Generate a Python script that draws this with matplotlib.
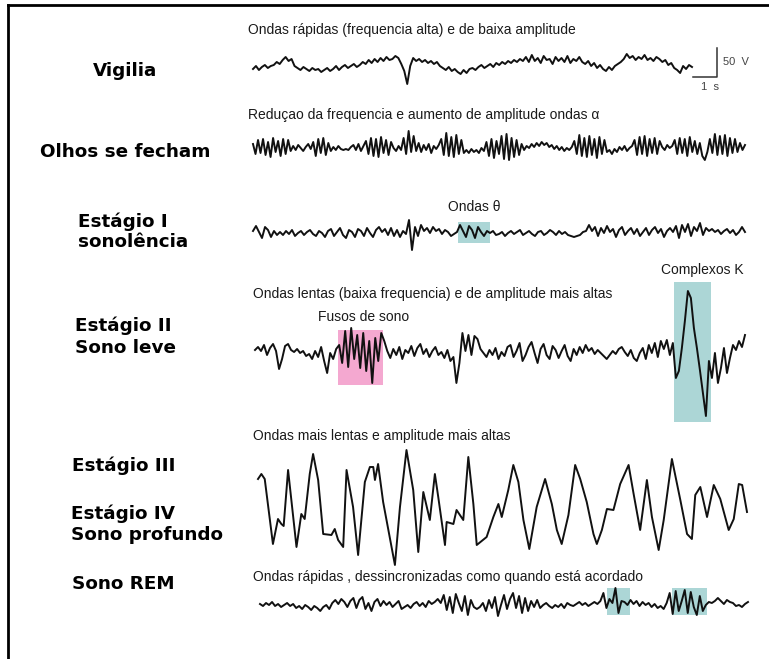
import numpy as np
import matplotlib
matplotlib.use("Agg")
import matplotlib.pyplot as plt
from matplotlib.patches import Rectangle
from matplotlib.lines import Line2D

plt.rcParams["font.family"] = ["Liberation Sans", "DejaVu Sans"]

# EEG traces, amplitude in display units (1 unit ~ 1.7 uV), one sample every 3 px
vigilia = [
    -1, 2, -2, 1, 3, 0, 2,
    3, 6, 4, 8, 11, 7, 9,
    2, 0, -2, 1, -1, -3, 0, -2, -1, -4, -2, 0, -3,
    -1, 2, -2, 1, 3, 0, 2, 4, 1, 3,
    6, 4, 8, 5, 9, 6, 10, 7, 11, 8, 9, 12, 10,
    4, -3, -16, 2, 10,
    7, 9, 6, 8, 5, 7, 4, 6,
    2, 0, -2, 1, -3, -1, -4, -6, -2, -5, -1,
    0, -2, 1, 3, 0, 2, 4, 1, 5, 3, 6, 4, 7, 5, 8, 6, 9, 7,
    11, 6, 13, 7, 10, 5, 12, 8, 9, 4, 11, 7, 10, 6, 12, 5, 9, 7, 11, 6,
    4, 7, 2, 5, 0, 3, -1, -3, 1, -2, 2, 4, 6,
    9, 14, 10, 12, 8, 11, 9, 13, 8, 10, 7, 11, 9,
    6, 8, 3, 5, 0, -2, -5, 2, -1, 3, 1,
]

# alpha rhythm, denser sampling (every 2.5 px)
olhos_fechados = [
    4, -6, 8, -5, 9, -7, 6, -9, 10, -4, 7, -8, 9, -6, 8, -3,
    2, -2, 3, 0, -3, 1, 4, -1,
    6, -8, 9, -5, 10, -7, 5, -3,
    1, -2, 2, -1, -2, -1, -2, 1, 3, -2, 4, -3, 2,
    7, -6, 10, -8, 9, -9, 11, -5, 8, -7, 6,
    0, -3, 2, -2,
    10, -6, 17, -4, 12,
    -3, 5, -4, 3, -2, 4, -5, 2, -1, 3,
    9, -7, 15, -8, 11, -9, 13, -6, 8, -5,
    -2, -5, -1, -4, -2, -5, 0, -3,
    6, -8, 9, -10, 7, -6, 12, -11, 14, -12, 10, -9, 8, -7, 4,
    -2, 2, 0, 4, 1, 5, 2, 6, 3, 5, 1, 3, -1, 2, -2, 1, -3, 0, -2, 1,
    7, -6, 13, -8, 10, -9, 12, -7, 9, -10, 11, -6, 8, -4,
    -2, -6, -1, -4, 1, -2, 2, -3, 0, 2,
    8, -7, 11, -6, 12, -8, 9, -5, 10, -6, 7,
    1, -2, 3, 0, 2,
    8, -6, 10, -5, 9, -8, 11, -4, 7, -6, 5,
    -8, -12, -4,
    9, -5, 14, -7, 12, -6, 13, -8, 10, -5, 9, -4,
    5, -2, 3,
]

estagio1 = [
    2, 7, 1, -5, 6, 3, -4, 2, -2,
    1, -2, 2, -1, 3, -3, 0, 2, -2, 1, 3, -1, -3, 2, 0,
    -4, 2, 4, -3, 1, 5, -2, -5, 3, 1, -4, 4, 2, -3, 5, 0, -4, 3, 6, 1,
    4, -2, 5, -3, 3, -4, 2, -1,
    13, -17,
    6, -3, 8, 2,
    5, 0, 6, 2, 4, -1, 3, 1, -3, -1,
    1, 8, 2, -4, 7, 3, -5, 6, 1, -3, 2,
    0, 2, -2, -1, 1, -3, 0, 2, -1, 1, 3, -2, 0, 2, -1, -3, 1, 2, -2, 0,
    3, 1, -2, 2, -1, 1, -2, -3, -4,
    -3, -2, 1, 2,
    8, 2, 6, -3, 5, 0, 7, 1, 4, -4, 3, 6, -2, 2, 5, -1, 4, -3, 1, 5,
    -2, 3, 6, 0, 4, -4, 2, 5, 1,
    7, -5, 8, 1, 9, -3, 6, 2, 10, -2, 5,
    2, 4, 1, 3, -1, 2, 4, 0, 3, -2, 1, 6, 1,
]

estagio2 = [
    3, 6, 2, 8, -2, 5, 9, 2, -16, -6, 7, 9, 3, 1, 4, 0, 2, -3, -1, -6,
    2, -4, 6, -8, -20, 0, -6, 4,
    8, -10, 22, -14, 25, -6, 18, -15, 20, -18, 12, -30, 15, -8, 20,
    12, 2, -5, 4, -2, 6, -6, 3, 0, 7, -3, 5, 9, -1, 4, -4, 2, 6, -2, 1,
    -5, 3, -8, -4,
    -30, -10, 20, 2, 18, -2, 17, 14, 4,
    0, -4, 3, -2, 5, -6, 1, -3, 6, 8, -4, 2, 10, -8, -2, 6, 11, 0, -10, 4,
    9, -2, -6, 7, 3, -5, 2, 8, -3, -8,
    4, -2, 6, 0, 8, 2, 5, -1, 3, 0, -3,
    -6, -2, 2, -1, 4, 6, 1, -3, 3, -5, -8, 0, 5, -6, 8, 0, 10, -4, 12, 4,
    13, -2,
    10, -25, -18, 5, 32, 62, 55, 25, 5, -17, -40, -63, -8,
    -25, 0, -30, -15, 5, -20, -5, 8, 3, 12, 6, 18,
]

# slow waves, digitised as (seconds, amplitude) turning points
profundo_t = [
    0.00, 0.16, 0.32, 0.71, 0.95, 1.11, 1.22, 1.43, 1.83, 2.06, 2.22, 2.46,
    2.62, 2.86, 3.10, 3.49, 3.65, 3.81, 4.05, 4.21, 4.52, 4.76, 5.08, 5.32,
    5.48, 5.56, 5.71, 5.95, 6.51, 6.75, 7.06, 7.38, 7.62, 7.86, 8.17, 8.41,
    8.57, 8.89, 8.97, 9.29, 9.44, 9.76, 10.00, 10.24, 10.40, 10.87, 11.19,
    11.43, 11.59, 11.90, 12.14, 12.38, 12.62, 12.90, 13.25, 13.65, 13.97,
    14.21, 14.44, 14.76, 15.08, 15.32, 15.63, 15.95, 16.11, 16.35, 16.59,
    16.90, 17.22, 17.62, 17.86, 18.17, 18.49, 18.73, 19.05, 19.29, 19.68,
    20.08, 20.40, 20.63, 20.79, 21.03, 21.35, 21.67, 21.98, 22.38, 22.62,
    22.86, 23.02, 23.25,
]
profundo_v = [
    28, 33, 28, -37, -12, -17, -19, 37, -40, -7, -12, 33,
    53, 27, -27, -28, -22, -33, -40, 37, 0, -48, 25, 40,
    40, 27, 43, 5, -58, 0, 57, 17, -45, 15, -13, 33,
    10, -38, -15, -17, -3, -13, 50, 3, -38, -30, -10,
    3, -10, 17, 42, 25, -13, -42, 0, 28, 3,
    -23, -37, -8, 42, 28, 5, -27, -37, -23, -2,
    -3, 23, 42, 13, -23, 27, -10, -43, -13, 48,
    7, -27, -32, 12, 20, -10, 22, 8, -23, -12,
    23, 22, -5,
]

rem = [
    1, -1, 2, 0, 3, -1, 1, -2, 0, 2, -1, 1, -3, -1, -4, 0, -2, -5, -1, -3,
    -6, -2, 0, -4,
    2, 5, 1, 6, 3, -2, 4, 7, -3, 5, 8, -4, 2, -6, 3, 6, -1, 4, 0, 3, -2, 1, 4,
    -4, -2, 0, -3, 1, 3, -1, 2, -2, 4, 1, 3, 6,
    2, 10, -5, 8, -8, 11, 2, -6, 9, -10, 5, -2, -4,
    -2, 2, -6, 5, -3, 8, -11, 0, 10, -4, 6,
    12, -3, 9, -8, 7, -6, 4, -2, 5, -3, 0, 2, -1,
    -3, 0, -2, 1, -3, 2, 0, -1, 1, 3, 0, 2, -1, 1, 3, 1,
    4, 12, -3, 6, 2, 17, -8, 4,
    3, 0, 5, 1, 4, -1, 3, 0, 2, -2, 1, -3, -1, -4,
    2, 12, -9, 14, -6, 4, 15, -8, 13, -2, -10, 9,
    -6, 0, 3, 2, 4, 7, 4, 1, 5, 3, 2, -1, 0, -2, 1, 3,
]

stage_labels = [
    ("Vigilia", 93, 71),
    ("Olhos se fecham", 40, 152),
    ("Estágio I", 78, 222),
    ("sonolência", 78, 242),
    ("Estágio II", 75, 326),
    ("Sono leve", 75, 348),
    ("Estágio III", 72, 466),
    ("Estágio IV", 71, 514),
    ("Sono profundo", 71, 535),
    ("Sono REM", 72, 584),
]

TEAL = "#acd6d6"
PINK = "#f4a8d0"
W, H = 769, 659

fig = plt.figure(figsize=(W / 100, H / 100), dpi=100)
fig.patch.set_facecolor("white")


def trace_axes(x0, x1, yc, h):
    # invisible axes where one amplitude unit is one pixel tall
    ax = fig.add_axes([x0 / W, 1 - (yc + h / 2) / H, (x1 - x0) / W, h / H])
    ax.set_ylim(-h / 2, h / 2)
    ax.axis("off")
    return ax


def draw_trace(ax, v, t=None):
    if t is None:
        t = np.arange(len(v))
    ax.plot(t, v, color="#111111", lw=1.4, solid_joinstyle="round", clip_on=False)
    ax.set_xlim(t[0], t[-1])


def shade(ax, t0, t1, lo, hi, color):
    ax.add_patch(Rectangle((t0, lo), t1 - t0, hi - lo, facecolor=color,
                           edgecolor="none", zorder=0))


def note(x, y, s, **kw):
    kw.setdefault("fontsize", 10)
    kw.setdefault("color", "#1a1a1a")
    fig.text(x / W, 1 - y / H, s, va="center", **kw)


# frame
fig.add_artist(Line2D([8 / W, 1], [1 - 5 / H, 1 - 5 / H], color="black", lw=2))
fig.add_artist(Line2D([8 / W, 8 / W], [0, 1 - 5 / H], color="black", lw=2))

# stage names on the left
for text, x, y in stage_labels:
    fig.text(x / W, 1 - y / H, text, fontsize=13.2, fontweight="bold",
             family="DejaVu Sans", va="center", color="black")

# awake
ax = trace_axes(253, 692, 68, 60)
draw_trace(ax, vigilia)
fs = 8  # samples per second
end = len(vigilia) - 1
ax.plot([end + 0.5, end + 0.5 + fs, end + 0.5 + fs], [-9, -9, 20],
        color="#333333", lw=1.1, clip_on=False)
note(723, 62, "50  V", fontsize=8, color="#444444")
note(701, 87, "1  s", fontsize=8, color="#444444")
note(248, 30, "Ondas rápidas (frequencia alta) e de baixa amplitude")

# eyes closed
ax = trace_axes(253, 745, 148, 60)
draw_trace(ax, olhos_fechados)
note(248, 115, "Reduçao da frequencia e aumento de amplitude ondas α")

# stage I
ax = trace_axes(253, 745, 233, 60)
draw_trace(ax, estagio1)
shade(ax, 68.3, 79, -10, 11, TEAL)
note(474, 207, "Ondas θ", ha="center")

# stage II
ax = trace_axes(255, 745, 353, 160)
draw_trace(ax, estagio2)
shade(ax, 27.7, 42.7, -32, 23, PINK)
shade(ax, 139.3, 151.7, -69, 71, TEAL)
note(253, 294, "Ondas lentas (baixa frequencia) e de amplitude mais altas")
note(364, 317, "Fusos de sono", ha="center")
note(702, 270, "Complexos K", ha="center")

# stages III and IV
ax = trace_axes(258, 747, 507, 130)
draw_trace(ax, profundo_v, profundo_t)
note(253, 436, "Ondas mais lentas e amplitude mais altas")

# REM
ax = trace_axes(260, 748, 605, 60)
draw_trace(ax, rem)
shade(ax, 115.3, 122.7, -10, 17, TEAL)
shade(ax, 136.7, 148.3, -10, 17, TEAL)
note(253, 577, "Ondas rápidas , dessincronizadas como quando está acordado")

fig.savefig("out.png", dpi=100)
